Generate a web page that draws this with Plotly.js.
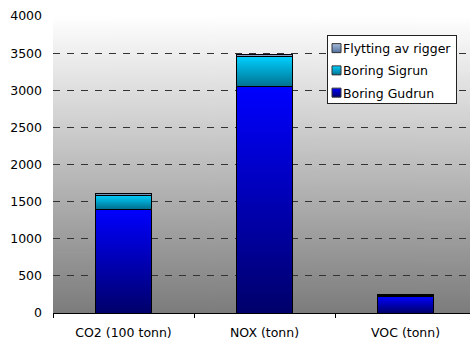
<!DOCTYPE html>
<html>
<head>
<meta charset="utf-8">
<script src="https://cdn.plot.ly/plotly-3.0.1.min.js"></script>
<style>html,body{margin:0;padding:0;background:#fff;}#chart{width:470px;height:345px;}</style>
</head>
<body>
<div id="chart"></div>
<script>
const categories = ["CO2 (100 tonn)", "NOX (tonn)", "VOC (tonn)"];
const gudrun = [1400, 3045, 225];
const sigrun = [188, 410, 15];
const flytting = [18, 20, 12];
const seriesNames = ["Boring Gudrun", "Boring Sigrun", "Flytting av rigger"];
const yTicks = [0, 500, 1000, 1500, 2000, 2500, 3000, 3500, 4000];

// background gradient image (plot area decoration)
const cv = document.createElement('canvas');
cv.width = 4; cv.height = 300;
const cx = cv.getContext('2d');
const g = cx.createLinearGradient(0, 0, 0, 300);
g.addColorStop(0, '#ffffff');
g.addColorStop(1, '#7c7c7c');
cx.fillStyle = g; cx.fillRect(0, 0, 4, 300);
const bgURL = cv.toDataURL();

const FONT = {family: 'DejaVu Sans, sans-serif', size: 12.5, color: '#000'};
const fills = ['#0000ff', '#00c8f0', '#7f9cc8'];

const traces = [gudrun, sigrun, flytting].map((vals, i) => ({
  type: 'bar',
  name: seriesNames[i],
  legendgroup: 'g' + i,
  legendrank: 3 - i,
  x: categories,
  y: vals,
  width: 0.4,
  marker: {color: fills[i], line: {color: '#000', width: 1}},
  hoverinfo: 'skip'
}));

const layout = {
  width: 470, height: 345,
  margin: {l: 53, r: 0, t: 16, b: 32},
  paper_bgcolor: '#ffffff',
  plot_bgcolor: 'rgba(0,0,0,0)',
  barmode: 'stack',
  showlegend: true,
  font: FONT,
  images: [{
    source: bgURL, xref: 'paper', yref: 'paper', x: 0, y: 1,
    sizex: 1, sizey: 1, sizing: 'stretch', xanchor: 'left', yanchor: 'top', layer: 'below'
  }],
  xaxis: {
    type: 'category',
    range: [-0.5, 2.457],
    showline: true, linecolor: '#000', linewidth: 1,
    ticks: 'outside', tickson: 'boundaries', ticklen: 4, tickcolor: '#000', tickwidth: 1,
    ticklabelstandoff: 8,
    showgrid: false, zeroline: false,
    tickfont: FONT,
    fixedrange: true
  },
  yaxis: {
    range: [0, 4000],
    tickvals: yTicks,
    ticktext: yTicks.map(String),
    showline: false,
    ticks: '',
    ticklabelstandoff: 10,
    showgrid: true, gridcolor: '#333', gridwidth: 1, griddash: '7px,7px',
    zeroline: false,
    tickfont: FONT,
    fixedrange: true
  },
  legend: {
    x: 0.5, y: 0.936, xanchor: 'left', yanchor: 'top',
    bgcolor: '#ffffff', bordercolor: '#222', borderwidth: 1,
    traceorder: 'grouped', tracegroupgap: 3,
    font: FONT
  }
};

Plotly.newPlot('chart', traces, layout, {displayModeBar: false, staticPlot: true}).then(gd => {
  const svg = gd.querySelector('svg.main-svg');
  const ns = 'http://www.w3.org/2000/svg';
  const defs = svg.querySelector('defs');
  const grads = [['gGud', '#0000ff', '#00006a'], ['gSig', '#00d0ff', '#007090'], ['gFly', '#a8bcd8', '#5070a0']];
  grads.forEach(([id, c1, c2]) => {
    const lg = document.createElementNS(ns, 'linearGradient');
    lg.setAttribute('id', id);
    lg.setAttribute('x1', '0'); lg.setAttribute('y1', '0');
    lg.setAttribute('x2', '0'); lg.setAttribute('y2', '1');
    [[0, c1], [1, c2]].forEach(([o, c]) => {
      const s = document.createElementNS(ns, 'stop');
      s.setAttribute('offset', o); s.setAttribute('stop-color', c);
      lg.appendChild(s);
    });
    defs.appendChild(lg);
  });
  const ids = ['gGud', 'gSig', 'gFly'];
  gd.querySelectorAll('.barlayer .trace.bars').forEach((tr, i) => {
    tr.querySelectorAll('path').forEach(p => { p.style.fill = 'url(#' + ids[i] + ')'; });
  });

  // compact legend
  const leg = gd.querySelector('.infolayer .legend');
  if (!leg) return;
  const bg = leg.querySelector('rect.bg');
  let bgR = bg.getBoundingClientRect();
  let maxRight = 0;
  leg.querySelectorAll('.traces').forEach(t => {
    const txt = t.querySelector('text.legendtext');
    const tR = txt.getBoundingClientRect();
    const dx = (bgR.left + 16) - tR.left;
    txt.setAttribute('x', parseFloat(txt.getAttribute('x') || 0) + dx);
    maxRight = Math.max(maxRight, txt.getBoundingClientRect().right);
    const pts = t.querySelector('.legendpoints');
    const sym = pts && pts.querySelector('path');
    if (sym) {
      sym.setAttribute('d', 'M4.5,4.5H-4.5V-4.5H4.5Z');
      const nm = txt.textContent;
      const idx = seriesNames.indexOf(nm);
      if (idx >= 0) sym.style.fill = 'url(#' + ids[idx] + ')';
      sym.style.stroke = '#333';
      sym.style.strokeWidth = '1px';
      const sR = sym.getBoundingClientRect();
      const sdx = (bgR.left + 9.5) - (sR.left + sR.right) / 2;
      pts.setAttribute('transform', 'translate(' + sdx + ',0)');
    }
  });
  const newW = maxRight + 5 - bgR.left;
  bg.setAttribute('width', newW);
  bg.setAttribute('height', 68);
  const sb = leg.querySelector('.scrollbox');
  if (sb) {
    const sm = /translate\(([-\d.]+),\s*([-\d.]+)\)/.exec(sb.getAttribute('transform') || 'translate(0,0)');
    if (sm) sb.setAttribute('transform', 'translate(' + sm[1] + ',' + (parseFloat(sm[2]) - 2) + ')');
  }
  // place legend box
  const m = /translate\(([-\d.]+),\s*([-\d.]+)\)/.exec(leg.getAttribute('transform') || 'translate(0,0)');
  const lx = parseFloat(m[1]), ly = parseFloat(m[2]);
  bgR = bg.getBoundingClientRect();
  const svgR = svg.getBoundingClientRect();
  const tx = lx + (327 - (bgR.left - svgR.left));
  const ty = ly + (35 - (bgR.top - svgR.top));
  leg.setAttribute('transform', 'translate(' + tx + ',' + ty + ')');
});
</script>
</body>
</html>
